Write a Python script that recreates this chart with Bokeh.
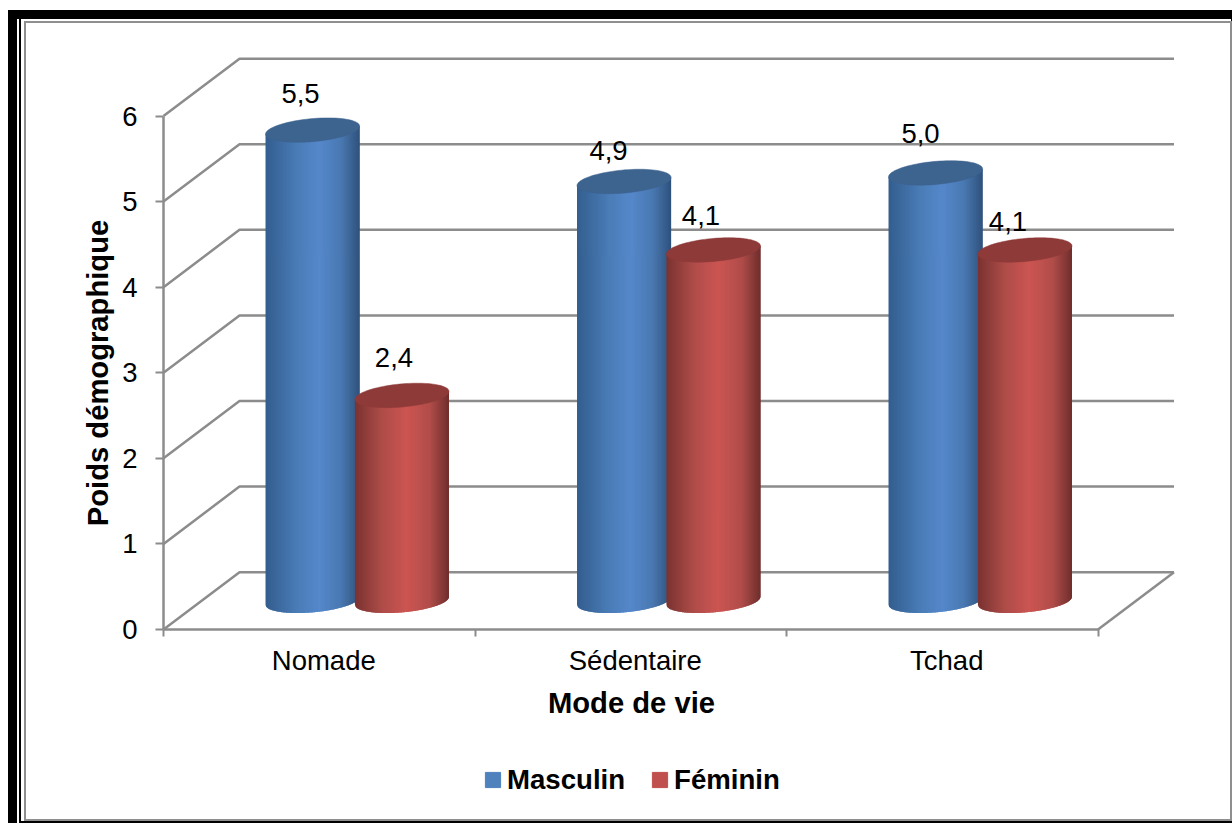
from bokeh.plotting import figure
from bokeh.embed import file_html
from bokeh.resources import INLINE
from bokeh.core.properties import value
from bokeh.models import ColumnDataSource, FixedTicker, Legend, LegendItem
import numpy as np

# ---- data ----
categories = ["Nomade", "Sédentaire", "Tchad"]
masculin = [5.5, 4.9, 5.0]
feminin = [2.4, 4.1, 4.1]
y_ticks = [0, 1, 2, 3, 4, 5, 6]
series_names = ["Masculin", "Féminin"]
x_title = "Mode de vie"
y_title = "Poids démographique"

# ---- style and layout ----
W, H = 1204, 796
PX_X, PX_Y = 311.5, 85.58           # pixels per data unit
LEFT, BASE = 137, 606               # where x=0 and y=0 lie in the canvas
FONT = "Liberation Sans"
GRID = "#8c8c8c"
DEPTH_X, DEPTH_Y = 0.244, 0.67      # 3-D depth in data units
BAR_W = 0.302
BAR_GAP = 0.287
CAP_B = 0.135                       # cap half height
TILT = (4.0 / PX_Y) / (47.0 / PX_X)
LABEL_DX = [-12, -8, -15.5, -12.5, -15, -17]
LABEL_DY = [-37, -37.6, -30.7, -34, -39, -28]
BLUE_STOPS = [(0, "#335e8f"), (.35, "#4b7db8"), (.57, "#5588cb"), (.8, "#4a79b2"), (1, "#2f527c")]
RED_STOPS = [(0, "#7a3331"), (.3, "#b04d4a"), (.55, "#cc5552"), (.8, "#b04d4a"), (1, "#6e2e2d")]
BLUE_CAP, RED_CAP = "#3d638f", "#8e3a38"
BLUE_KEY, RED_KEY = "#4f81bd", "#c0504d"
N_STRIPS = 94
SHADOW = ", ".join([
    "0 0 0 2px #8f8f8f",
    "-2px -1px 0 3px white",
    "-3px 0 0 4px black",
    "-4px 1px 0 5px white",
    "-7px -2px 0 11px black",
])


def ramp(stops, t):
    pos = [s[0] for s in stops]
    rgb = [[int(s[1][i:i + 2], 16) for i in (1, 3, 5)] for s in stops]
    return "#%02x%02x%02x" % tuple(int(round(np.interp(t, pos, [c[k] for c in rgb]))) for k in range(3))


p = figure(width=W, height=H, output_backend="svg", toolbar_location=None,
           x_range=(-LEFT / PX_X, (W - LEFT) / PX_X), y_range=(-(H - BASE) / PX_Y, BASE / PX_Y),
           min_border=0,
           background_fill_color="white", border_fill_color="white", outline_line_color=None,
           margin=(23, 2, 4, 26), styles={"box-shadow": SHADOW})
p.grid.visible = False

# 3-D walls
for v in y_ticks:
    p.line([0, DEPTH_X, 3 + DEPTH_X], [v, v + DEPTH_Y, v + DEPTH_Y], line_color=GRID, line_width=2.5)
p.line([3, 3 + DEPTH_X], [0, DEPTH_Y], line_color=GRID, line_width=2.5)


def cylinder(cx, val, stops, cap):
    base = DEPTH_Y / 2
    a = BAR_W / 2
    edges = np.linspace(-1, 1, N_STRIPS + 1)
    xs, ys, cols = [], [], []
    for i in range(N_STRIPS):
        # every strip reaches under the next one, so that no seams show
        us = np.linspace(edges[i], edges[min(i + 2, N_STRIPS)], 5)
        low = base + TILT * a * us - CAP_B * np.sqrt(np.clip(1 - us ** 2, 0, 1))
        top = base + val + TILT * a * us
        xs.append(list(cx + a * us) + list(cx + a * us[::-1]))
        ys.append(list(low) + list(top[::-1]))
        cols.append(ramp(stops, (i + .5) / N_STRIPS))
    p.patches(xs, ys, fill_color=cols, line_color=None)
    t = np.linspace(0, 2 * np.pi, 90)
    p.patch(cx + a * np.cos(t), base + val + TILT * a * np.cos(t) + CAP_B * np.sin(t),
            fill_color=cap, line_color=cap, line_width=0.5)
    return base + val


lx, ly, lt = [], [], []
for i in range(len(categories)):
    c = i + 0.5 + DEPTH_X / 2
    x1, x2 = c - BAR_GAP / 2, c + BAR_GAP / 2
    y1 = cylinder(x1, masculin[i], BLUE_STOPS, BLUE_CAP)
    y2 = cylinder(x2, feminin[i], RED_STOPS, RED_CAP)
    lx += [x1, x2]
    ly += [y1, y2]
    lt += [f"{masculin[i]:.1f}".replace(".", ","), f"{feminin[i]:.1f}".replace(".", ",")]

src = ColumnDataSource(dict(x=lx, y=ly, t=lt, dx=LABEL_DX, dy=LABEL_DY))
p.text("x", "y", text="t", source=src, x_offset="dx", y_offset="dy", text_align="center",
       text_baseline="alphabetic", text_font=value(FONT), text_font_size="27.5px", text_color="black")

# axes, held at the zero lines inside the frame
yax = p.yaxis[0]
yax.fixed_location = 0
yax.ticker = FixedTicker(ticks=y_ticks)
yax.bounds = (0, 6)
yax.axis_line_color = GRID
yax.axis_line_width = 2.5
yax.major_tick_line_color = GRID
yax.major_tick_line_width = 2
yax.major_tick_out = 8
yax.major_tick_in = 0
yax.minor_tick_line_color = None
yax.major_label_standoff = 18
yax.major_label_text_font = FONT
yax.major_label_text_font_size = "27.5px"
yax.major_label_text_color = "black"

xc = [i + 0.5145 for i in range(len(categories))]
xax = p.xaxis[0]
xax.fixed_location = 0
xax.ticker = FixedTicker(ticks=xc, minor_ticks=[0, 1, 2, 3])
xax.major_label_overrides = dict(zip(xc, categories))
xax.bounds = (0, 3)
xax.axis_line_color = GRID
xax.axis_line_width = 2.5
xax.major_tick_line_color = None
xax.major_tick_out = 0
xax.major_tick_in = 0
xax.minor_tick_line_color = GRID
xax.minor_tick_line_width = 2
xax.minor_tick_out = 7
xax.minor_tick_in = 0
xax.major_label_standoff = 8
xax.major_label_text_font = FONT
xax.major_label_text_font_size = "27.5px"
xax.major_label_text_color = "black"

# axis titles
p.text([(631 - 26 - LEFT) / PX_X], [-(702 - 23 - BASE) / PX_Y], text=[x_title], text_align="center",
       text_baseline="alphabetic", text_font=value(FONT), text_font_style="bold",
       text_font_size="29.2px", text_color="black")
p.text([(97.5 - 26 - LEFT) / PX_X], [-(372.5 - 23 - BASE) / PX_Y], text=[y_title], angle=np.pi / 2,
       text_align="center", text_baseline="alphabetic", text_font=value(FONT), text_font_style="bold",
       text_font_size="29.2px", text_color="black")

# legend
nan = float("nan")
r1 = p.quad(left=[nan], right=[nan], top=[nan], bottom=[nan], fill_color=BLUE_KEY, line_color=BLUE_KEY)
r2 = p.quad(left=[nan], right=[nan], top=[nan], bottom=[nan], fill_color=RED_KEY, line_color=RED_KEY)
legend = Legend(items=[LegendItem(label=series_names[0], renderers=[r1]),
                       LegendItem(label=series_names[1], renderers=[r2])],
                orientation="horizontal", location=(457, 23.5),
                glyph_width=19, glyph_height=19, label_standoff=5, spacing=25,
                padding=0, margin=0, border_line_color=None, background_fill_color=None,
                label_text_font=FONT, label_text_font_style="bold", label_text_font_size="27.6px",
                label_text_color="black")
p.add_layout(legend, "center")

open("out.html", "w").write(file_html(p, INLINE))
